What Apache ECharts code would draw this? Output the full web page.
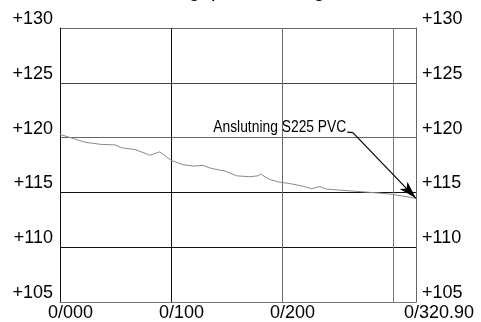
<!DOCTYPE html>
<html>
<head>
<meta charset="utf-8">
<script src="https://cdn.jsdelivr.net/npm/echarts@6/dist/echarts.min.js"></script>
<style>html,body{margin:0;padding:0;background:#fff}#c{width:481px;height:322px}</style>
</head>
<body>
<div id="c"></div>
<script>
// Profile data (chainage in m, level in m)
const chainage = [0, 9, 22.5, 36.9, 49.5, 55.8, 68.4, 81, 90, 99.9, 110.7, 120.6, 128.7, 135, 144, 148.5, 159.3, 171, 178.2, 180.9, 189, 197.1, 207, 218.7, 226.8, 234, 240.3, 263.7, 288, 299.7, 320.9];
const level    = [120.29, 120.01, 119.58, 119.38, 119.34, 119.07, 118.89, 118.39, 118.70, 117.94, 117.53, 117.40, 117.47, 117.23, 117.03, 116.96, 116.51, 116.43, 116.51, 116.67, 116.18, 115.95, 115.81, 115.57, 115.34, 115.52, 115.30, 115.12, 114.94, 114.82, 114.46];
const xGridValues = [0, 100, 200, 300];
const xLabelValues = [0, 100, 200, 320.9];
const yTickValues = [105, 110, 115, 120, 125, 130];
const titleText = "Längdprofil ledning";
const annotationText = "Anslutning S225 PVC";
const annotTextEnd = [259, 120.5];
const annotElbow = [264, 120.45];
const annotTip = [320.9, 114.46];

function fmtChainage(v) {
  if (Math.abs(v - Math.round(v)) < 1e-6) return '0/' + String(Math.round(v)).padStart(3, '0');
  return '0/' + v.toFixed(2);
}

const chart = echarts.init(document.getElementById('c'), null, {renderer: 'canvas'});
const labelFont = {fontFamily: 'Liberation Sans', fontSize: 18, color: '#000'};
chart.setOption({
  animation: false,
  backgroundColor: '#fff',
  grid: {left: 60, right: 65, top: 28, bottom: 17},
  xAxis: {
    type: 'value', min: 0, max: 320.9,
    axisLine: {show: true, lineStyle: {color: '#777', width: 1}},
    axisTick: {show: false, customValues: xGridValues},
    splitLine: {show: true, lineStyle: {color: ['#555', '#111', '#6a6a6a', '#777'], width: 1}},
    axisLabel: Object.assign({
      customValues: xLabelValues, formatter: fmtChainage, margin: 2,
      align: 'left', padding: [0, 0, 0, -12]
    }, labelFont)
  },
  yAxis: [{
    type: 'value', min: 105, max: 130, interval: 5, position: 'left',
    axisLine: {show: true, lineStyle: {color: '#111', width: 1}},
    axisTick: {show: false},
    splitLine: {show: true, lineStyle: {color: ['#777', '#111', '#111', '#666', '#444', '#666'], width: 1}},
    axisLabel: Object.assign({formatter: v => '+' + v, margin: 7, verticalAlign: 'bottom'}, labelFont)
  }, {
    type: 'value', min: 105, max: 130, interval: 5, position: 'right',
    axisLine: {show: true, lineStyle: {color: '#666', width: 1}},
    axisTick: {show: false},
    splitLine: {show: false},
    axisLabel: Object.assign({formatter: v => '+' + v, margin: 6, verticalAlign: 'bottom'}, labelFont)
  }],
  series: [{
    type: 'line', yAxisIndex: 0,
    data: chainage.map((c, i) => [c, level[i]]),
    symbol: 'none', lineStyle: {color: '#8a8a8a', width: 1}, z: 3,
    markLine: {
      silent: true, symbol: ['none', 'none'],
      label: {show: false},
      lineStyle: {color: '#000', width: 1.2, type: 'solid'},
      data: [
        [{coord: annotTextEnd}, {coord: annotElbow}],
        [{coord: annotElbow}, {coord: annotTip, symbol: 'arrow', symbolSize: [8, 18]}]
      ]
    }
  }]
});

const p = chart.convertToPixel({xAxisIndex: 0, yAxisIndex: 0}, annotTextEnd);
chart.setOption({
  graphic: [{
    type: 'text', x: 240, y: 1,
    style: {text: titleText, fontFamily: 'Liberation Sans', fontSize: 20, fill: '#000',
      align: 'center', verticalAlign: 'bottom'}
  }, {
    type: 'text', x: p[0] - 1, y: p[1] + 3.5, scaleX: 0.865,
    style: {text: annotationText, fontFamily: 'Liberation Sans', fontSize: 16, fill: '#000',
      align: 'right', verticalAlign: 'bottom'}
  }]
});
</script>
</body>
</html>
